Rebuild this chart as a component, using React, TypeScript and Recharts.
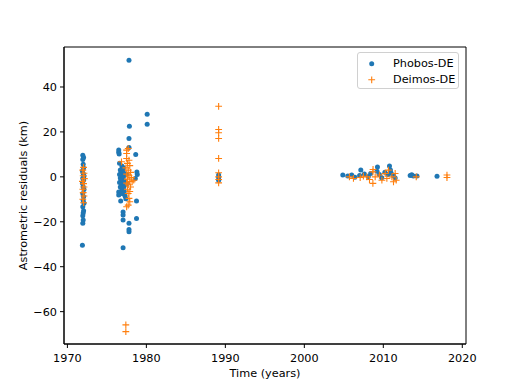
import { ScatterChart, Scatter, XAxis, YAxis, ReferenceArea } from 'recharts';

// Phobos-DE residuals (blue dots)
const phobosYears = [
  1971.95, 1972.05, 1971.95, 1972.0, 1972.05, 1971.9, 1972.0, 1972.1, 1971.95, 1972.05, 1971.9, 1972.0,
  1972.1, 1971.95, 1972.05, 1972.0, 1972.1, 1971.95, 1972.05, 1972.0, 1971.95, 1972.0, 1971.95, 1971.9,
  1977.8, 1980.1, 1980.1, 1977.85, 1977.8, 1977.8, 1978.65, 1976.5, 1976.5, 1976.55,
  1976.6, 1976.9, 1977.1, 1976.7, 1977.0, 1976.8, 1977.2, 1976.6, 1976.9, 1977.1, 1976.7, 1977.0,
  1976.8, 1977.3, 1976.6, 1977.0, 1976.9, 1977.2, 1976.7, 1977.1, 1976.9, 1976.5, 1977.2, 1976.5,
  1977.0, 1977.3, 1976.75, 1977.4, 1977.6, 1977.5, 1977.05, 1977.05, 1977.05, 1977.05, 1977.8, 1977.8,
  1977.8, 1978.75, 1978.75, 1978.8, 1978.85, 1978.6,
  1989.15, 1989.15, 1989.15,
  2004.87, 2005.5, 2006.0, 2006.4, 2007.15, 2007.0, 2007.6, 2008.1, 2008.4, 2009.26, 2009.2, 2009.5,
  2009.8, 2010.2, 2010.6, 2010.78, 2010.9, 2011.0, 2011.3, 2011.5, 2013.4, 2013.6, 2013.8, 2014.26, 2016.8,
];
const phobosResid = [
  9.6, 8.6, 7.7, 5.6, 3.9, 2.6, 1.5, 0.4, -0.6, -1.5, -2.9, -4.4,
  -5.6, -7.4, -8.9, -10.5, -11.8, -13.3, -15.1, -16.1, -17.3, -19.2, -20.7, -30.4,
  51.9, 27.9, 23.4, 22.5, 17.1, 13.1, 10.0, 11.9, 11.0, 10.2,
  6.0, 4.8, 4.0, 3.0, 2.5, 1.8, 1.5, 1.0, 0.5, 0.0, -0.5, -1.0,
  -1.5, -2.0, -2.5, -3.0, -3.5, -4.0, -4.5, -5.0, -5.8, -6.7, -6.5, -8.1,
  -7.5, -8.5, -10.8, -9.8, -3.0, 1.0, -15.6, -17.0, -19.2, -31.6, -20.7, -23.4,
  -24.4, -18.5, -10.7, 2.2, 1.0, -0.7,
  0.8, -0.3, -1.5,
  0.8, 0.4, 0.8, -0.2, 3.0, 0.6, 1.3, 0.2, 1.5, 4.4, 2.5, 1.0,
  -0.4, 2.0, 1.0, 4.8, 3.0, 1.6, 0.5, -0.5, 0.6, 0.9, 0.4, 0.4, 0.3,
];

// Deimos-DE residuals (orange crosses)
const deimosYears = [
  1972.05, 1971.95, 1972.1, 1972.0, 1972.15, 1971.9, 1972.05, 1972.1, 1971.95, 1972.0, 1972.1, 1971.95, 1972.05,
  1977.7, 1977.5, 1977.5, 1977.5, 1976.85, 1977.8, 1977.6, 1977.9, 1977.4, 1977.7, 1978.0, 1977.5,
  1977.8, 1978.1, 1977.6, 1978.4, 1977.9, 1977.5, 1978.2, 1977.7, 1978.0, 1977.6, 1977.9, 1977.7,
  1977.8, 1977.9, 1977.7, 1977.5, 1977.4, 1977.4,
  1989.15, 1989.15, 1989.15, 1989.15, 1989.15, 1989.15, 1989.15, 1989.15, 1989.15,
  2005.71, 2006.22, 2007.07, 2007.48, 2007.92, 2008.25, 2008.68, 2008.7, 2008.68, 2008.97, 2009.51,
  2009.82, 2010.24, 2010.45, 2010.65, 2011.09, 2011.5, 2011.63, 2011.29, 2014.17, 2018.06, 2018.06,
];
const deimosResid = [
  4.2, 3.0, 1.6, 0.5, -0.8, -2.0, -3.0, -4.5, -5.5, -7.0, -8.5, -10.0, -11.5,
  12.6, 11.9, 10.4, 8.2, 6.7, 7.4, 6.0, 5.0, 4.0, 3.0, 2.0, 1.2,
  0.5, -0.3, -1.0, -1.5, -2.0, -2.8, -2.2, -3.5, -4.5, -5.5, -6.5, -7.4,
  -9.6, -11.1, -12.6, -13.3, -65.9, -68.9,
  31.4, 21.1, 19.6, 17.1, 8.2, 1.8, 0.0, -1.2, -2.7,
  0.0, -0.7, -0.3, 0.3, 0.0, -1.2, 2.2, 3.3, -2.9, 0.0, 0.8,
  -1.5, 1.5, -0.7, 3.0, 0.0, 1.5, -1.5, -2.2, 0.0, 0.8, -0.3,
];

const xTicks = [1970, 1980, 1990, 2000, 2010, 2020];
const yTicks = [-60, -40, -20, 0, 20, 40];

const XMIN = 1969.57;
const XMAX = 2020.47;
const YMIN = -74.4;
const YMAX = 57.8;

const BLUE = '#1f77b4';
const ORANGE = '#ff7f0e';
const FONT = 'DejaVu Sans, sans-serif';

const phobos = phobosYears.map((t, i) => ({ t, r: phobosResid[i] }));
const deimos = deimosYears.map((t, i) => ({ t, r: deimosResid[i] }));

const Dot = (props: any) => <circle cx={props.cx} cy={props.cy} r={2.5} fill={BLUE} />;

const Plus = (props: any) => {
  const { cx, cy } = props;
  const s = 3.4;
  return (
    <path
      d={`M${cx - s},${cy}H${cx + s}M${cx},${cy - s}V${cy + s}`}
      stroke={ORANGE}
      strokeWidth={1.1}
      fill="none"
    />
  );
};

const tickStyle = { fontSize: 11.25, fill: '#000', fontFamily: FONT };
const minus = (v: number) => String(v).replace('-', '\u2212');

export default function App() {
  return (
    <div style={{ position: 'absolute', left: 0, top: 0, width: 518, height: 388, background: '#fff' }}>
      <ScatterChart width={518} height={388} margin={{ top: 47, right: 52, bottom: 0, left: 0 }}>
        <XAxis
          type="number"
          dataKey="t"
          domain={[XMIN, XMAX]}
          ticks={xTicks}
          allowDataOverflow
          height={44}
          tick={tickStyle}
          tickSize={4}
          tickMargin={6}
          stroke="#000"
          label={{ value: 'Time (years)', position: 'insideBottom', offset: 11, style: { fontSize: 11.25, fill: '#000', fontFamily: FONT } }}
        />
        <YAxis
          type="number"
          dataKey="r"
          domain={[YMIN, YMAX]}
          ticks={yTicks}
          tickFormatter={minus}
          allowDataOverflow
          width={64}
          tick={tickStyle}
          tickSize={4}
          tickMargin={3}
          stroke="#000"
          label={{
            value: 'Astrometric residuals (km)',
            angle: -90,
            position: 'insideLeft',
            offset: 23,
            style: { textAnchor: 'middle', fontSize: 11.25, fill: '#000', fontFamily: FONT },
          }}
        />
        <ReferenceArea x1={XMIN} x2={XMAX} y1={YMIN} y2={YMAX} fill="none" stroke="#000" strokeWidth={1} ifOverflow="visible" />
        <Scatter name="Phobos-DE" data={phobos} shape={Dot} isAnimationActive={false} />
        <Scatter name="Deimos-DE" data={deimos} shape={Plus} isAnimationActive={false} />
      </ScatterChart>
      <div
        style={{
          position: 'absolute',
          left: 357,
          top: 52,
          width: 102,
          height: 37,
          border: '1px solid #d0d0d0',
          borderRadius: 3,
          background: 'rgba(255,255,255,0.8)',
          fontFamily: FONT,
          fontSize: 11.25,
          color: '#000',
          boxSizing: 'border-box',
        }}
      >
        <svg width={30} height={37} style={{ position: 'absolute', left: 0, top: 0 }}>
          <circle cx={13.7} cy={10.8} r={2.5} fill={BLUE} />
          <path d="M10.3,26.8H17.1M13.7,23.4V30.2" stroke={ORANGE} strokeWidth={1.1} />
        </svg>
        <div style={{ position: 'absolute', left: 35, top: 3, lineHeight: '16px' }}>Phobos-DE</div>
        <div style={{ position: 'absolute', left: 35, top: 19, lineHeight: '16px' }}>Deimos-DE</div>
      </div>
    </div>
  );
}
